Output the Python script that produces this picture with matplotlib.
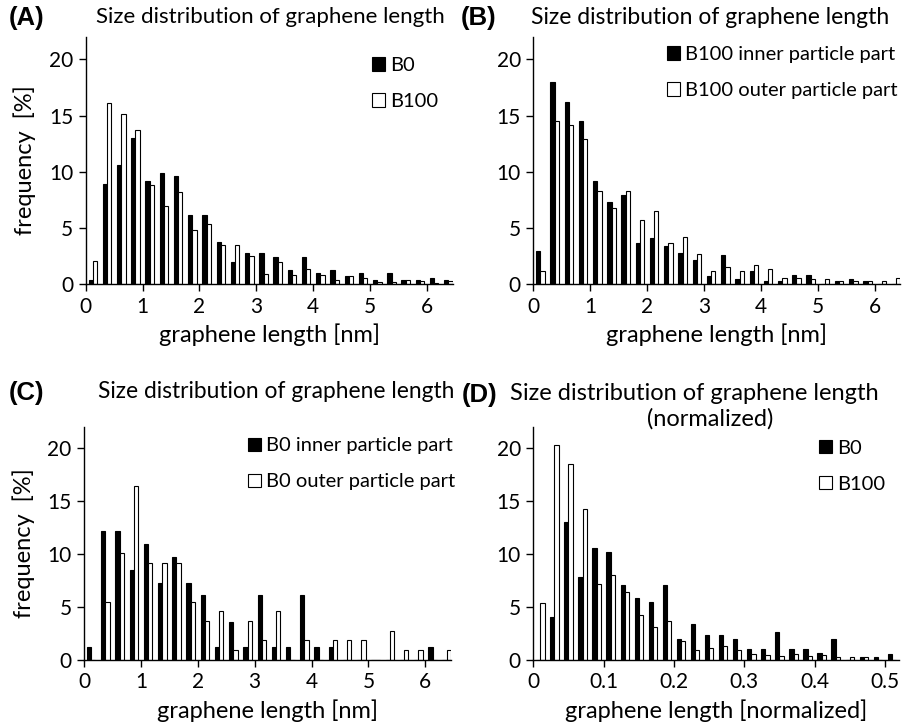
import matplotlib
matplotlib.use("Agg")
import matplotlib.pyplot as plt
import numpy as np

plt.rcParams['font.family'] = ['Lato', 'DejaVu Sans']

# bin centres: 26 bins of 0.25 nm (A-C) and 0.02 (D)
nm_centres = [0.125 + 0.25 * k for k in range(26)]
norm_centres = [0.01 + 0.02 * k for k in range(26)]

# (A) B0 vs B100
a_b0 = [0.4, 8.9, 10.6, 13.0, 9.2, 9.9, 9.6, 6.2, 6.2, 3.8, 2.0, 2.8, 2.8,
        2.4, 1.3, 2.4, 1.0, 1.3, 0.7, 1.0, 0.4, 1.0, 0.4, 0.4, 0.6, 0.4]
a_b100 = [2.1, 16.1, 15.1, 13.7, 8.8, 7.0, 8.2, 4.8, 5.4, 3.5, 3.5, 2.5, 0.9,
          2.0, 0.8, 1.4, 0.8, 0.4, 0.7, 0.6, 0.2, 0.2, 0.4, 0.3, 0.15, 0.3]

# (B) B100 inner vs outer
b_inner = [3.0, 18.0, 16.2, 14.5, 9.2, 7.3, 7.9, 3.7, 4.1, 3.4, 2.8, 2.2, 0.7,
           2.6, 0.45, 1.15, 0.27, 0.27, 0.85, 0.85, 0.0, 0.27, 0.45, 0.27, 0.0, 0.0]
b_outer = [1.2, 14.5, 14.2, 12.9, 8.3, 6.8, 8.3, 5.7, 6.5, 3.7, 4.2, 2.7, 1.2,
           1.5, 1.2, 1.7, 1.4, 0.6, 0.6, 0.45, 0.45, 0.27, 0.27, 0.27, 0.27, 0.6]

# (C) B0 inner vs outer
c_inner = [1.2, 12.15, 12.15, 8.5, 10.9, 7.3, 9.7, 7.3, 6.1, 1.2, 3.6, 1.2, 6.1,
           1.2, 1.2, 6.1, 1.2, 1.2, 0, 0, 0, 0, 0, 0, 1.2, 0]
c_outer = [0, 5.5, 10.05, 16.45, 9.15, 9.15, 9.15, 5.5, 3.7, 4.6, 0.9, 3.7, 1.85,
           4.6, 0, 1.85, 0, 1.85, 1.85, 1.85, 0, 2.75, 0.9, 0.9, 0, 0.9]

# (D) normalized B0 vs B100
d_b0 = [0, 4.05, 13.0, 7.85, 10.55, 10.15, 7.1, 5.8, 5.45, 7.1, 2.0, 3.4, 2.4,
        2.4, 2.0, 1.0, 1.0, 2.65, 1.0, 1.0, 0.7, 2.0, 0.0, 0.3, 0.3, 0.6]
d_b100 = [5.35, 20.25, 18.5, 14.2, 7.2, 8.0, 6.45, 4.25, 3.1, 3.65, 1.75, 0.9, 1.1,
          1.3, 0.9, 0.55, 0.45, 0.35, 0.55, 0.35, 0.45, 0.25, 0.25, 0.25, 0.0, 0.0]

panels = [
    ("A", nm_centres, a_b0, a_b100, "B0", "B100", 0.25, [0, 1, 2, 3, 4, 5, 6], 6.45,
     "graphene length [nm]"),
    ("B", nm_centres, b_inner, b_outer, "B100 inner particle part", "B100 outer particle part",
     0.25, [0, 1, 2, 3, 4, 5, 6], 6.45, "graphene length [nm]"),
    ("C", nm_centres, c_inner, c_outer, "B0 inner particle part", "B0 outer particle part",
     0.25, [0, 1, 2, 3, 4, 5, 6], 6.45, "graphene length [nm]"),
    ("D", norm_centres, d_b0, d_b100, "B0", "B100", 0.02, [0, 0.1, 0.2, 0.3, 0.4, 0.5], 0.52,
     "graphene length [normalized]"),
]

W, H = 904, 726
fig = plt.figure(figsize=(W / 100, H / 100), dpi=100)

boxes = {
    "A": [85.7, 284.3, 452.7, 36.8],
    "B": [533.3, 284.3, 900.3, 36.8],
    "C": [84.0, 660.0, 451.0, 426.7],
    "D": [533.3, 660.0, 899.0, 426.7],
}
leg_anchor = {"A": (1.0, 0.975), "B": (1.03, 1.02), "C": (1.05, 1.015), "D": (1.0, 1.005)}

for name, xs, s1, s2, l1, l2, step, xt, xmax, xlab in panels:
    l, b, r, t = boxes[name]
    ax = fig.add_axes([l / W, (H - b) / H, (r - l) / W, (b - t) / H])
    xs = np.array(xs)
    w = step * 0.3
    ax.bar(xs - w / 2, s1, width=w, color="black", edgecolor="black", linewidth=0.8, label=l1)
    ax.bar(xs + w / 2, s2, width=w, color="white", edgecolor="black", linewidth=0.8, label=l2)
    ax.set_xlim(0, xmax)
    ax.set_ylim(0, 22)
    ax.set_xticks(xt)
    ax.set_xticklabels([("%g" % v) for v in xt])
    ax.set_yticks([0, 5, 10, 15, 20])
    for sp in ["top", "right"]:
        ax.spines[sp].set_visible(False)
    for sp in ["left", "bottom"]:
        ax.spines[sp].set_linewidth(1.0)
    ax.tick_params(direction="out", length=5, width=1, labelsize=15, pad=4)
    ax.set_xlabel(xlab, fontsize=17, labelpad=5)
    if name in ("A", "C"):
        ax.set_ylabel("frequency  [%]", fontsize=17, labelpad=9)
    ax.legend(loc="upper right", bbox_to_anchor=leg_anchor[name],
              frameon=False, fontsize=14.5, handlelength=0.65, handleheight=0.65,
              handletextpad=0.25, labelspacing=0.95, borderaxespad=0.3)

title = "Size distribution of graphene length"
lab = dict(fontsize=18.5, fontweight="bold", family=["Liberation Sans", "DejaVu Sans"], va="center")
fig.text(9 / W, 1 - 18 / H, "(A)", **lab)
fig.text(270 / W, 1 - 17 / H, title, fontsize=16, ha="center", va="center")
fig.text(461 / W, 1 - 18 / H, "(B)", **lab)
fig.text(710 / W, 1 - 17 / H, title, fontsize=16.5, ha="center", va="center")
fig.text(9 / W, 1 - 393 / H, "(C)", **lab)
fig.text(276 / W, 1 - 392 / H, title, fontsize=16.4, ha="center", va="center")
fig.text(462 / W, 1 - 395 / H, "(D)", **lab)
fig.text(694 / W, 1 - 393 / H, title, fontsize=17, ha="center", va="center")
fig.text(710 / W, 1 - 419 / H, "(normalized)", fontsize=17, ha="center", va="center")

fig.savefig("out.png", dpi=100)
